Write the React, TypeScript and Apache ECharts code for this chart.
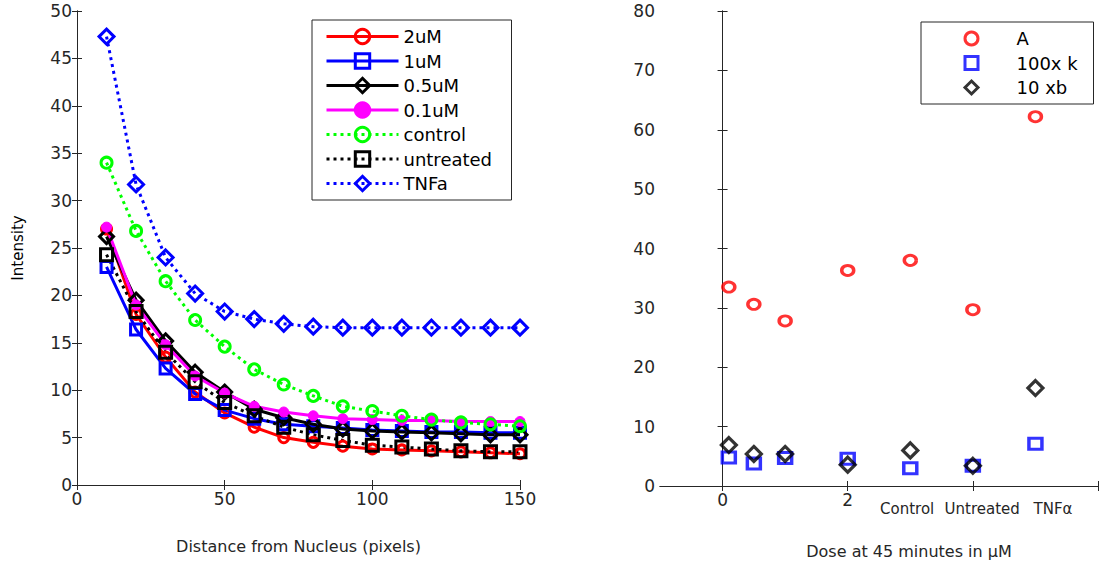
import React, { useEffect, useRef } from "react";
import * as echarts from "echarts";

// ---------- Left panel data ----------
const distance = [10, 20, 30, 40, 50, 60, 70, 80, 90, 100, 110, 120, 130, 140, 150];
const dose2uM = [27.0, 18.0, 13.5, 9.8, 7.6, 6.1, 5.0, 4.5, 4.1, 3.8, 3.7, 3.6, 3.5, 3.4, 3.3];
const dose1uM = [23.0, 16.4, 12.3, 9.6, 7.9, 7.0, 6.4, 6.2, 6.0, 5.8, 5.7, 5.6, 5.6, 5.5, 5.5];
const dose05uM = [26.2, 19.5, 15.2, 11.9, 9.8, 8.0, 7.1, 6.4, 5.9, 5.7, 5.6, 5.5, 5.4, 5.3, 5.3];
const dose01uM = [27.2, 19.0, 14.8, 11.5, 9.7, 8.3, 7.7, 7.3, 7.0, 6.9, 6.8, 6.8, 6.7, 6.7, 6.7];
const control = [34.0, 26.8, 21.5, 17.4, 14.6, 12.2, 10.6, 9.4, 8.3, 7.8, 7.3, 6.9, 6.6, 6.4, 6.2];
const untreated = [24.3, 18.3, 14.0, 10.9, 8.7, 7.3, 6.1, 5.3, 4.7, 4.2, 4.0, 3.8, 3.6, 3.5, 3.5];
const tnfa = [47.3, 31.7, 24.0, 20.2, 18.3, 17.5, 17.0, 16.7, 16.6, 16.6, 16.6, 16.6, 16.6, 16.6, 16.6];

// ---------- Right panel data ----------
const doseX = [0.1, 0.5, 1, 2, 3, 4, 5];
const paramA = [33.5, 30.6, 27.8, 36.3, 38.0, 29.7, 62.2];
const param100k = [4.8, 3.8, 4.7, 4.6, 3.0, 3.4, 7.1];
const param10xb = [6.9, 5.4, 5.4, 3.6, 6.0, 3.4, 16.5];

// ---------- Tick labels ----------
const rightXTicks = [0, 2, 4, 6];
const rightXNumLabels = [0, 2];
const doseCategoryNames = ["Control", "Untreated", "TNFα"];
const doseCategoryAnchors = [2.95, 4.15, 5.28];

const FONT = "DejaVu Sans, Liberation Sans, Arial, sans-serif";
const AX = "#262626";

const zip = (xs: number[], ys: number[]) => xs.map((x, i) => [x, ys[i]]);

function frameAxis(extra: any) {
  return {
    axisLine: { show: true, lineStyle: { color: AX, width: 1 } },
    axisTick: { show: true, inside: true, length: 5, lineStyle: { color: AX } },
    axisLabel: { show: false },
    splitLine: { show: false },
    ...extra,
  };
}

export default function App() {
  const ref = useRef<HTMLDivElement>(null);
  useEffect(() => {
    document.body.style.margin = "0";
    const chart = echarts.init(ref.current!, undefined, { renderer: "svg" });

    const lineSeries = (
      name: string,
      data: number[],
      color: string,
      symbol: string,
      size: number,
      dashed: boolean,
      filled: boolean
    ) => ({
      name,
      type: "line",
      xAxisIndex: 0,
      yAxisIndex: 0,
      data: zip(distance, data),
      symbol,
      symbolSize: size,
      showAllSymbol: true,
      lineStyle: { color, width: 3, type: dashed ? [3, 4] : "solid" },
      itemStyle: filled
        ? { color, borderColor: color, borderWidth: 1 }
        : { color: "rgba(0,0,0,0)", borderColor: color, borderWidth: 3 },
      emphasis: { disabled: true },
    });

    const scatterSeries = (
      name: string,
      data: number[],
      color: string,
      symbol: string,
      size: any
    ) => ({
      name,
      type: "scatter",
      xAxisIndex: 2,
      yAxisIndex: 2,
      data: zip(doseX, data),
      symbol,
      symbolSize: size,
      itemStyle: { color: "rgba(0,0,0,0)", borderColor: color, borderWidth: 3.2 },
      emphasis: { disabled: true },
    });

    chart.setOption({
      animation: false,
      textStyle: { fontFamily: FONT },
      grid: [
        { left: 77, top: 11, width: 443, height: 474 },
        { left: 660, top: 11, width: 438, height: 475 },
      ],
      legend: [
        {
          orient: "vertical",
          left: 312,
          top: 20,
          data: ["2uM", "1uM", "0.5uM", "0.1uM", "control", "untreated", "TNFa"],
          itemWidth: 72,
          itemHeight: 18,
          itemGap: 6.5,
          padding: [7.5, 8, 7.5, 13],
          borderColor: AX,
          borderWidth: 1,
          backgroundColor: "#fff",
          lineStyle: { width: 3 },
          itemStyle: { borderWidth: 3 },
          textStyle: { fontSize: 18, color: "#000", lineHeight: 18, width: 100, fontFamily: FONT },
          selectedMode: false,
        },
        {
          orient: "vertical",
          left: 921,
          top: 22,
          data: ["A", "100x k", "10 xb"],
          itemWidth: 13,
          itemHeight: 13,
          itemGap: 6.5,
          padding: [7.5, 10, 7.5, 42.5],
          borderColor: AX,
          borderWidth: 1,
          backgroundColor: "#fff",
          itemStyle: { borderWidth: 3 },
          textStyle: {
            fontSize: 18,
            color: "#000",
            lineHeight: 18,
            width: 67,
            padding: [0, 0, 0, 33.5],
            fontFamily: FONT,
          },
          selectedMode: false,
        },
      ],
      xAxis: [
        {
          type: "value",
          gridIndex: 0,
          min: 0,
          max: 150,
          interval: 50,
          position: "bottom",
          name: "Distance from Nucleus (pixels)",
          nameLocation: "middle",
          nameGap: 53,
          nameTextStyle: { fontSize: 16, color: AX, fontFamily: FONT },
          axisLine: { show: true, onZero: false, lineStyle: { color: AX } },
          axisTick: { show: true, inside: true, length: 5, lineStyle: { color: AX } },
          axisLabel: { fontSize: 17, color: AX, margin: 5, fontFamily: FONT },
          splitLine: { show: false },
        },
        frameAxis({ type: "value", gridIndex: 0, min: 0, max: 150, interval: 50, position: "top" }),
        {
          type: "value",
          gridIndex: 1,
          min: -1,
          max: 6,
          position: "bottom",
          name: "Dose at 45 minutes in μM",
          nameLocation: "middle",
          nameGap: 57,
          nameTextStyle: { fontSize: 16, color: AX, padding: [0, 0, 0, 60], fontFamily: FONT },
          axisLine: { show: true, onZero: false, lineStyle: { color: AX } },
          axisTick: { show: true, inside: true, length: 5, customValues: rightXTicks, lineStyle: { color: AX } },
          axisLabel: { fontSize: 17, color: AX, margin: 5, customValues: rightXNumLabels, fontFamily: FONT },
          splitLine: { show: false },
        },
        frameAxis({
          type: "value",
          gridIndex: 1,
          min: -1,
          max: 6,
          position: "top",
          axisTick: { show: true, inside: true, length: 5, customValues: rightXTicks, lineStyle: { color: AX } },
        }),
        {
          type: "value",
          gridIndex: 1,
          min: -1,
          max: 6,
          position: "bottom",
          axisLine: { show: false },
          axisTick: { show: false },
          splitLine: { show: false },
          axisLabel: {
            show: true,
            customValues: doseCategoryAnchors,
            fontSize: 15,
            color: AX,
            margin: 15,
            fontFamily: FONT,
            formatter: (v: number) => {
              const i = doseCategoryAnchors.findIndex((a) => Math.abs(a - v) < 1e-6);
              return i >= 0 ? doseCategoryNames[i] : "";
            },
          },
        },
      ],
      yAxis: [
        {
          type: "value",
          gridIndex: 0,
          min: 0,
          max: 50,
          interval: 5,
          position: "left",
          name: "Intensity",
          nameLocation: "middle",
          nameGap: 52,
          nameTextStyle: { fontSize: 15, color: "#000", fontFamily: FONT },
          axisLine: { show: true, lineStyle: { color: AX } },
          axisTick: { show: true, inside: true, length: 5, lineStyle: { color: AX } },
          axisLabel: { fontSize: 17, color: AX, margin: 5, fontFamily: FONT },
          splitLine: { show: false },
        },
        frameAxis({ type: "value", gridIndex: 0, min: 0, max: 50, interval: 5, position: "right" }),
        {
          type: "value",
          gridIndex: 1,
          min: 0,
          max: 80,
          interval: 10,
          position: "left",
          axisLine: { show: true, lineStyle: { color: AX } },
          axisTick: { show: true, inside: true, length: 5, lineStyle: { color: AX } },
          axisLabel: { fontSize: 17, color: AX, margin: 5, fontFamily: FONT },
          splitLine: { show: false },
        },
        frameAxis({ type: "value", gridIndex: 1, min: 0, max: 80, interval: 10, position: "right" }),
      ],
      series: [
        lineSeries("2uM", dose2uM, "#ff0000", "circle", 10, false, false),
        lineSeries("1uM", dose1uM, "#0000ff", "rect", 11, false, false),
        lineSeries("0.5uM", dose05uM, "#000000", "diamond", 14, false, false),
        lineSeries("0.1uM", dose01uM, "#ff00ff", "circle", 10, false, true),
        lineSeries("control", control, "#00ff00", "circle", 11, true, false),
        lineSeries("untreated", untreated, "#000000", "rect", 12, true, false),
        lineSeries("TNFa", tnfa, "#0000ff", "diamond", 15, true, false),
        scatterSeries("A", paramA, "#ff0000", "circle", [12, 10]),
        scatterSeries("100x k", param100k, "#0000ff", "rect", [13, 11]),
        scatterSeries("10 xb", param10xb, "#000000", "diamond", 15),
      ],
    });
    return () => chart.dispose();
  }, []);
  return <div ref={ref} style={{ width: 1100, height: 566 }} />;
}
